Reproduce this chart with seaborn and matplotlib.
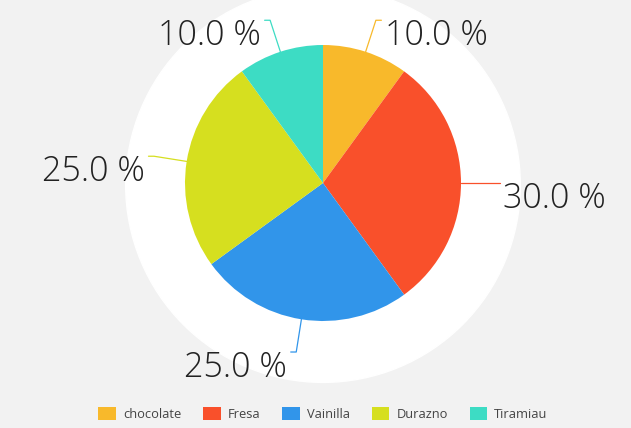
import numpy as np
import matplotlib.pyplot as plt
import seaborn as sns
from matplotlib.patches import Circle, Patch

# datos del grafico
sabores = ['chocolate', 'Fresa', 'Vainilla', 'Durazno', 'Tiramiau']
porcentajes = [10.0, 30.0, 25.0, 25.0, 10.0]
colores = ['#F8B92B', '#F9502B', '#3195EA', '#D6DF1F', '#3DDCC4']

sns.set_theme(style='white', rc={'figure.facecolor': '#F2F2F2',
                                 'axes.facecolor': '#F2F2F2'})
plt.rcParams['font.family'] = ['Open Sans', 'DejaVu Sans']

fig = plt.figure(figsize=(6.31, 4.28), dpi=100)
ax = fig.add_axes([0, 0, 1, 1])

# fondo blanco circular
ax.add_patch(Circle((0, -0.015), 1.43, color='white', zorder=0))

wedges, _ = ax.pie(porcentajes, colors=colores, startangle=90, counterclock=False,
                   radius=1, wedgeprops=dict(linewidth=0))

# etiquetas con lineas guia
for w, val, col in zip(wedges, porcentajes, colores):
    ang = np.deg2rad((w.theta1 + w.theta2) / 2)
    c, s = np.cos(ang), np.sin(ang)
    lado = 1 if c >= 0 else -1
    x0, y0 = c, s
    x1, y1 = 1.24 * c, 1.24 * s
    x2 = x1 + 0.04 * lado
    ax.plot([x0, x1, x2], [y0, y1, y1], color=col, lw=0.9, zorder=3)
    ax.text(x2 + 0.025 * lado, y1 - 0.18, f'{val:.1f} %', ha='left' if lado > 0 else 'right',
            va='baseline', fontsize=24.5, color='#222222', fontweight='light')

ax.set_xlim(-323 / 138, (631 - 323) / 138)
ax.set_ylim((183 - 428) / 138, 183 / 138)
ax.set_aspect('equal')
ax.axis('off')

handles = [Patch(facecolor=col, edgecolor='none') for col in colores]
fig.legend(handles, sabores, loc='lower center', ncol=5, frameon=False,
           fontsize=9.3, handlelength=1.35, handleheight=1.15, handletextpad=0.55,
           columnspacing=1.7, bbox_to_anchor=(0.512, -0.01), labelcolor='#444444')

fig.savefig('out.png', dpi=100, facecolor=fig.get_facecolor())
